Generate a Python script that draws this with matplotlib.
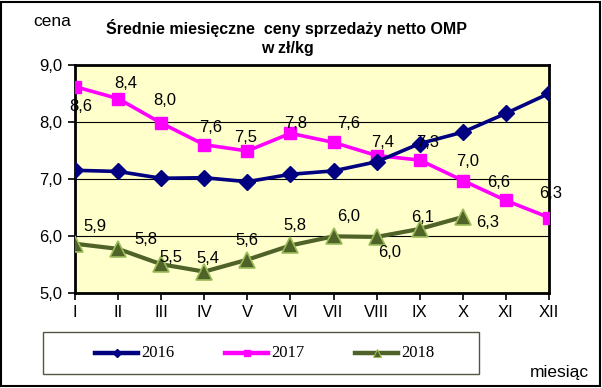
import matplotlib
matplotlib.use("Agg")
import matplotlib.pyplot as plt
from matplotlib.patches import Rectangle
from matplotlib.lines import Line2D

plt.rcParams.update({
    "font.family": ["Liberation Sans", "DejaVu Sans"],
    "font.size": 11,
})

# ── Data ──
months = ["I", "II", "III", "IV", "V", "VI", "VII", "VIII", "IX", "X", "XI", "XII"]
series_names = ["2016", "2017", "2018"]
v2016 = [7.15, 7.13, 7.01, 7.02, 6.95, 7.08, 7.14, 7.30, 7.62, 7.82, 8.15, 8.50]
v2017 = [8.62, 8.41, 7.98, 7.60, 7.49, 7.80, 7.64, 7.41, 7.33, 6.97, 6.62, 6.32]
v2018 = [5.86, 5.77, 5.50, 5.37, 5.58, 5.83, 5.99, 5.98, 6.12, 6.33]
y_ticks = [5.0, 6.0, 7.0, 8.0, 9.0]

# label offsets in pixels (dx, dy up)
off2017 = [(6, -20), (8, 15), (4, 23), (6, 17), (-2, 13), (5, 10),
           (15, 19), (6, 13), (8, 18), (5, 19), (-7, 18), (2, 24)]
off2018 = [(20, 17), (28, 9), (10, 7), (4, 13), (0, 19), (4, 20),
           (15, 20), (13, -16), (3, 11), (25, -6)]

C_NAVY = "#000080"
C_MAG = "#FF00FF"
C_OLIVE = "#4F6228"
C_OLIVE_EDGE = "#9BBB59"
C_BG = "#FFFFCC"

W, H = 602, 388
fig = plt.figure(figsize=(W / 100, H / 100), dpi=100)
ax = fig.add_axes([75 / W, 1 - 292.7 / H, 474 / W, 227.7 / H])
ax.set_facecolor(C_BG)

styles = [
    dict(color=C_NAVY, lw=2.6, marker="D", ms=8, mfc=C_NAVY, mec=C_NAVY),
    dict(color=C_MAG, lw=2.6, marker="s", ms=8.5, mfc=C_MAG, mec=C_MAG),
    dict(color=C_OLIVE, lw=3, marker="^", ms=11, mfc=C_OLIVE,
         mec=C_OLIVE_EDGE, mew=1.2),
]

x = list(range(len(months)))
for vals, st, z in zip([v2016, v2017, v2018], styles, [4, 3, 3]):
    ax.plot(x[:len(vals)], vals, zorder=z, **st)

def fmt(v):
    return f"{v:.1f}".replace(".", ",")

for vals, offs in [(v2017, off2017), (v2018, off2018)]:
    for xi, v, (dx, dy) in zip(x, vals, offs):
        ax.annotate(fmt(v), (xi, v), xytext=(dx * 0.72, dy * 0.72),
                    textcoords="offset points", ha="center", va="center",
                    fontsize=12, color="black", zorder=6)

ax.set_xlim(0, len(months) - 1)
ax.set_ylim(5.0, 9.0)
ax.set_xticks(x)
ax.set_xticklabels(months)
ax.set_yticks(y_ticks)
ax.set_yticklabels([fmt(t) for t in y_ticks])
ax.yaxis.grid(True, color="black", lw=0.8)
ax.set_axisbelow(True)
ax.tick_params(axis="both", direction="out", length=5, width=1.2,
               labelsize=12, pad=4)
for s in ax.spines.values():
    s.set_linewidth(2)
    s.set_color("black")

# titles and axis names
fig.text(287 / W, 1 - 28 / H, "Średnie miesięczne  ceny sprzedaży netto OMP",
         ha="center", va="center", fontsize=11.5, fontweight="bold")
fig.text(287 / W, 1 - 48 / H, "w zł/kg",
         ha="center", va="center", fontsize=11.5, fontweight="bold")
fig.text(33 / W, 1 - 22 / H, "cena", ha="left", va="center", fontsize=12.5)
fig.text(559 / W, 1 - 372 / H, "miesiąc", ha="center", va="center", fontsize=12.5)

# legend, drawn by hand in figure pixels
fig.add_artist(Rectangle((43 / W, 1 - 374 / H), 436 / W, 42 / H,
                         transform=fig.transFigure, facecolor="white",
                         edgecolor="#555544", lw=1.0))
leg_ms = [4.5, 5, 6]
for i, (name, st) in enumerate(zip(series_names, styles)):
    x0 = 95 + 130 * i
    st = dict(st, ms=leg_ms[i], lw=3.2)
    if "mew" in st:
        st["mew"] = 0.8
    fig.add_artist(Line2D([x0 / W, (x0 + 43) / W], [1 - 353 / H] * 2,
                          transform=fig.transFigure, markevery=[], **st))
    fig.add_artist(Line2D([(x0 + 21.5) / W], [1 - 353 / H],
                          transform=fig.transFigure, **dict(st, lw=0)))
    fig.text((x0 + 46) / W, 1 - 353 / H, name, ha="left", va="center",
             family="Liberation Serif", fontsize=12)

# outer border
fig.add_artist(Rectangle((1 / W, 2 / H), 599 / W, 384 / H,
                         transform=fig.transFigure, fill=False,
                         edgecolor="black", lw=1.5))

fig.savefig("out.png", dpi=100, facecolor="white")
